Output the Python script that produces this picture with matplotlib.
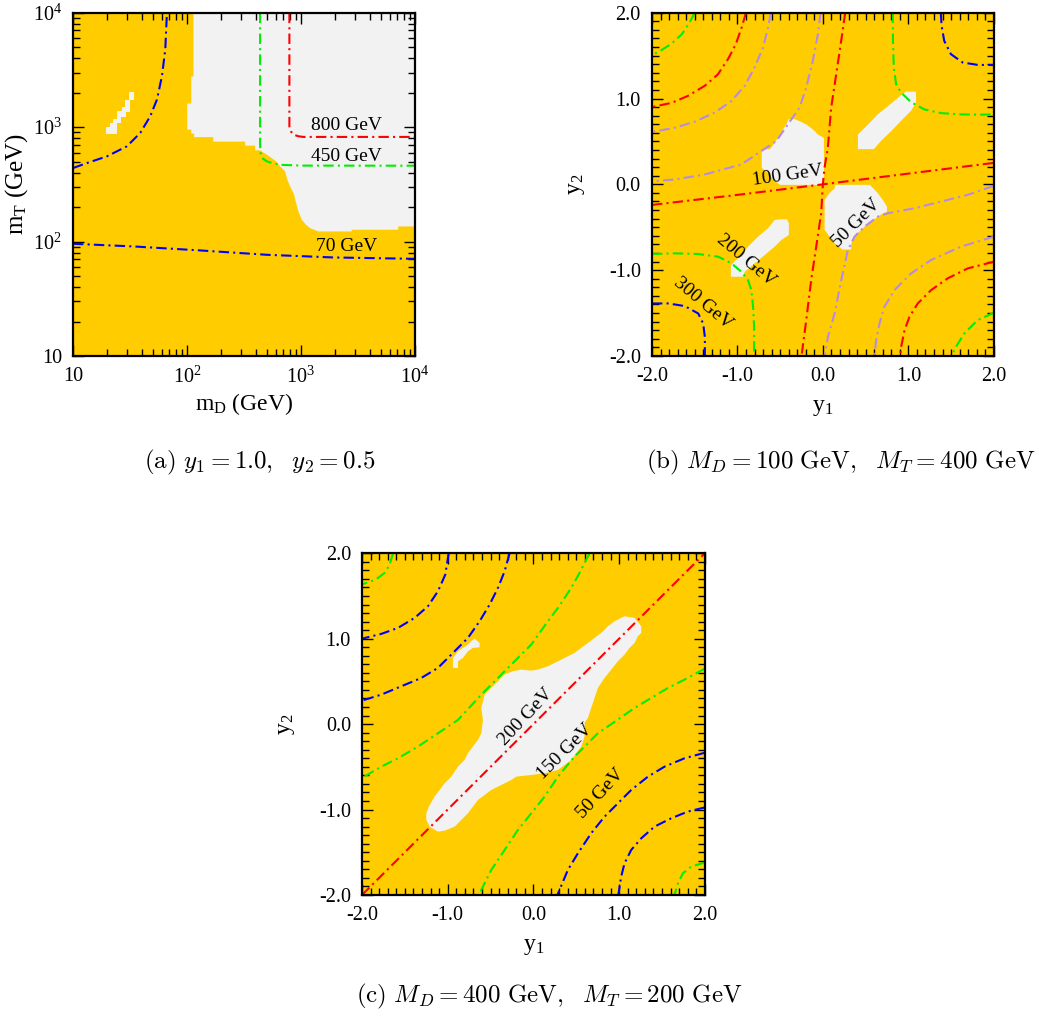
import matplotlib
matplotlib.use('Agg')
import matplotlib.pyplot as plt
from matplotlib.ticker import MultipleLocator, LogLocator, NullFormatter

plt.rcParams['font.family'] = 'Liberation Serif'
plt.rcParams['mathtext.fontset'] = 'custom'
plt.rcParams['mathtext.rm'] = 'Liberation Serif'
plt.rcParams['mathtext.it'] = 'Liberation Serif:italic'
plt.rcParams['mathtext.bf'] = 'Liberation Serif:bold'
plt.rcParams['lines.scale_dashes'] = False

YELLOW = '#FFCC00'
GREY = '#F2F2F2'
BLUE = '#0000FF'
GREEN = '#00EE00'
RED = '#FF0000'
PURPLE = '#B48CE6'
DASH = (0, (7.5, 3, 1.5, 3))

# ---- panel (a): m_D vs m_T (GeV), y1=1.0, y2=0.5 ----
a_white_main = [(114, 1e4), (114, 2770), (109, 2770), (109, 1607), (100.5, 1607), (100.5, 952),
                (109, 952), (109, 878), (115.7, 878), (115.7, 818), (170, 818), (170, 747),
                (324, 747), (324, 689), (396, 689), (396, 627), (438, 627), (485, 587),
                (536, 549), (605, 502), (656, 454), (726, 411), (760, 347), (803, 304),
                (871, 257), (907, 217), (950, 183), (1017, 155), (1109, 140), (1203, 131),
                (1422, 122.5), (2790, 122.5), (2790, 126.8), (7143, 126.8), (7143, 135.5),
                (1e4, 135.5), (1e4, 1e4)]
a_white_small = [(19.6, 878), (19.6, 1005), (20.95, 1005), (20.95, 1089), (22.4, 1089),
                 (22.4, 1181), (24.3, 1181), (24.3, 1376), (26.9, 1376), (26.9, 1504),
                 (28.7, 1504), (28.7, 1718), (31.2, 1718), (31.2, 2047), (34.0, 2047),
                 (34.0, 1718), (31.5, 1718), (31.5, 1368), (29.3, 1368), (29.3, 1237),
                 (26.5, 1237), (26.5, 1096), (24.3, 1096), (24.3, 878)]

a_blue_up_x = [10, 13.3, 19.9, 29.7, 38.9, 47.6, 54.5, 60.3, 64.5, 66.7]
a_blue_up_y = [439, 486, 556, 680, 890, 1245, 1741, 2790, 4773, 1e4]
a_blue_lo_x = [10, 34, 130.6, 501, 1926, 1e4]
a_blue_lo_y = [95.6, 90.6, 83.6, 76.6, 72.6, 70.6]
a_green_x = [438, 438, 442, 454, 502, 573, 702, 1050, 1e4]
a_green_y = [1e4, 700, 600, 538, 502, 480, 467, 461, 460]
a_red_x = [792, 792, 800, 815, 859, 950, 1050, 1e4]
a_red_y = [1e4, 1017, 960, 920, 861, 832, 821, 821]
a_labels = [('800 GeV', 2522, 1031, 0), ('450 GeV', 2522, 549, 0), ('70 GeV', 2522, 90.6, 0)]

# ---- panel (b): y1 vs y2, M_D=100, M_T=400 ----
b_white = [
    [(-0.716, 0.403), (-0.716, 0.19), (-0.66, 0.15), (-0.62, 0.11), (-0.58, 0.05), (-0.50, -0.006),
     (0.012, -0.006), (0.012, 0.54), (-0.054, 0.578), (-0.113, 0.637), (-0.19, 0.695),
     (-0.27, 0.735), (-0.33, 0.76), (-0.40, 0.76), (-0.424, 0.707), (-0.50, 0.58),
     (-0.58, 0.462), (-0.62, 0.411)],
    [(0.41, 0.41), (0.596, 0.41), (0.68, 0.505), (0.80, 0.62), (0.915, 0.74), (1.03, 0.855),
     (1.09, 0.95), (1.09, 1.08), (0.97, 1.08), (0.88, 1.01), (0.76, 0.91), (0.64, 0.815),
     (0.53, 0.70), (0.41, 0.58)],
    [(0.14, -0.006), (0.55, -0.006), (0.64, -0.10), (0.70, -0.18), (0.75, -0.26), (0.75, -0.32),
     (0.70, -0.34), (0.64, -0.38), (0.49, -0.49), (0.37, -0.61), (0.33, -0.70), (0.33, -0.76),
     (0.23, -0.76), (0.14, -0.69), (0.08, -0.61), (0.02, -0.53), (0.02, -0.18), (0.08, -0.10),
     (0.14, -0.045)],
    [(-1.077, -1.077), (-0.933, -1.077), (-0.915, -1.019), (-0.798, -0.921), (-0.681, -0.824),
     (-0.564, -0.726), (-0.486, -0.649), (-0.398, -0.59), (-0.398, -0.454), (-0.42, -0.407),
     (-0.486, -0.407), (-0.564, -0.415), (-0.642, -0.512), (-0.759, -0.61), (-0.876, -0.726),
     (-0.973, -0.843), (-1.077, -0.941)],
]
b_green_tl_x = [-1.50, -1.56, -1.65, -1.77, -1.89, -2.0]
b_green_tl_y = [2.0, 1.885, 1.75, 1.64, 1.563, 1.505]
b_red_tl_x = [-0.90, -0.95, -1.02, -1.11, -1.23, -1.38, -1.58, -1.77, -2.0]
b_red_tl_y = [2.0, 1.83, 1.63, 1.46, 1.28, 1.15, 1.03, 0.95, 0.90]
b_purple_tl_x = [-0.61, -0.64, -0.70, -0.80, -0.915, -1.07, -1.265, -1.50, -1.73, -2.0]
b_purple_tl_y = [2.0, 1.83, 1.595, 1.36, 1.147, 0.972, 0.836, 0.73, 0.66, 0.61]
b_purple_in1_x = [-0.027, -0.058, -0.117, -0.195, -0.273, -0.409, -0.545, -0.72, -0.954, -1.38, -1.73, -2.0]
b_purple_in1_y = [2.0, 1.75, 1.44, 1.127, 0.894, 0.699, 0.504, 0.388, 0.232, 0.115, 0.057, 0.035]
b_red_steep_x = [0.261, 0.214, 0.156, 0.097, 0.058, 0.019, 0.0, -0.02, -0.078, -0.137, -0.195, -0.25]
b_red_steep_y = [2.0, 1.672, 1.283, 0.894, 0.427, 0.193, 0.0, -0.337, -0.726, -1.116, -1.583, -2.0]
b_red_flat_x = [-2.0, -1.0, 0.0, 1.0, 2.0]
b_red_flat_y = [-0.24, -0.123, 0.0, 0.125, 0.25]
b_green_tr_x = [0.818, 0.82, 0.83, 0.857, 0.915, 1.032, 1.187, 1.382, 1.616, 1.849, 2.0]
b_green_tr_y = [2.0, 1.67, 1.36, 1.166, 1.069, 0.958, 0.873, 0.830, 0.815, 0.812, 0.815]
b_blue_tr_x = [1.38, 1.389, 1.42, 1.498, 1.635, 1.81, 2.0]
b_blue_tr_y = [2.0, 1.848, 1.672, 1.517, 1.420, 1.392, 1.39]
b_blue_bl_x = [-2.0, -1.81, -1.615, -1.459, -1.401, -1.381, -1.381]
b_blue_bl_y = [-1.388, -1.388, -1.419, -1.505, -1.622, -1.778, -2.0]
b_green_bl_x = [-2.0, -1.732, -1.459, -1.225, -1.070, -0.953, -0.876, -0.837, -0.817, -0.805, -0.805]
b_green_bl_y = [-0.812, -0.804, -0.812, -0.843, -0.921, -1.019, -1.116, -1.233, -1.427, -1.661, -2.0]
b_purple_in2_x = [2.0, 1.694, 1.382, 1.071, 0.760, 0.643, 0.487, 0.370, 0.292, 0.215, 0.137, 0.059, 0.020]
b_purple_in2_y = [-0.018, -0.123, -0.201, -0.279, -0.337, -0.376, -0.493, -0.610, -0.766, -1.116, -1.505, -1.778, -2.0]
b_purple_br_x = [2.0, 1.616, 1.266, 1.032, 0.837, 0.720, 0.662, 0.623, 0.604]
b_purple_br_y = [-0.61, -0.726, -0.882, -1.038, -1.233, -1.427, -1.622, -1.817, -2.0]
b_red_br_x = [2.0, 1.694, 1.460, 1.266, 1.110, 1.013, 0.955, 0.916, 0.904]
b_red_br_y = [-0.902, -0.980, -1.096, -1.233, -1.388, -1.544, -1.700, -1.894, -2.0]
b_green_br_x = [2.0, 1.810, 1.654, 1.557, 1.506]
b_green_br_y = [-1.497, -1.583, -1.739, -1.894, -2.0]
b_labels = [('100 GeV', -0.41, 0.096, 8), ('50 GeV', 0.389, -0.453, 45),
            ('200 GeV', -0.896, -0.882, -40), ('300 GeV', -1.401, -1.388, -40)]

# ---- panel (c): y1 vs y2, M_D=400, M_T=200 ----
c_white = [
    [(1.063, 1.262), (1.180, 1.243), (1.258, 1.145), (1.258, 1.067), (1.219, 1.028), (1.180, 0.950),
     (1.121, 0.892), (1.063, 0.814), (0.985, 0.736), (0.908, 0.638), (0.830, 0.541), (0.752, 0.423),
     (0.713, 0.306), (0.674, 0.189), (0.636, 0.072), (0.597, 0.014), (0.597, -0.146), (0.558, -0.263),
     (0.441, -0.419), (0.286, -0.536), (0.130, -0.575), (-0.025, -0.595), (-0.200, -0.615),
     (-0.258, -0.654), (-0.336, -0.693), (-0.414, -0.732), (-0.492, -0.771), (-0.569, -0.829),
     (-0.647, -0.888), (-0.706, -0.966), (-0.764, -1.044), (-0.842, -1.122), (-0.919, -1.200),
     (-1.036, -1.247), (-1.114, -1.259), (-1.211, -1.200), (-1.250, -1.122), (-1.250, -1.044),
     (-1.211, -0.946), (-1.153, -0.849), (-1.094, -0.771), (-1.036, -0.693), (-0.958, -0.615),
     (-0.880, -0.497), (-0.803, -0.419), (-0.764, -0.341), (-0.706, -0.263), (-0.647, -0.185),
     (-0.608, -0.107), (-0.589, 0.049), (-0.608, 0.189), (-0.569, 0.345), (-0.492, 0.423),
     (-0.414, 0.501), (-0.336, 0.580), (-0.239, 0.619), (-0.142, 0.638), (-0.025, 0.626),
     (0.052, 0.638), (0.169, 0.677), (0.247, 0.716), (0.325, 0.755), (0.402, 0.794), (0.480, 0.833),
     (0.558, 0.892), (0.636, 0.950), (0.713, 1.009), (0.791, 1.067), (0.869, 1.145), (0.947, 1.204),
     (1.024, 1.243)],
    [(-0.939, 0.658), (-0.880, 0.658), (-0.880, 0.736), (-0.822, 0.775), (-0.764, 0.853), (-0.706, 0.892),
     (-0.628, 0.899), (-0.628, 0.950), (-0.686, 1.001), (-0.725, 0.970), (-0.764, 0.931), (-0.822, 0.892),
     (-0.880, 0.853), (-0.939, 0.775)],
]
c_red_x = [-2.0, 2.0]
c_red_y = [-2.0, 2.0]
c_green_tl_x = [-1.638, -1.677, -1.736, -1.813, -1.891, -2.0]
c_green_tl_y = [2.0, 1.867, 1.770, 1.711, 1.672, 1.636]
c_blue1_x = [-0.989, -1.028, -1.114, -1.230, -1.386, -1.580, -1.775, -2.0]
c_blue1_y = [2.0, 1.750, 1.555, 1.380, 1.243, 1.126, 1.056, 1.0]
c_blue2_x = [-0.278, -0.336, -0.414, -0.511, -0.628, -0.764, -0.919, -1.114, -1.308, -1.541, -1.775, -2.0]
c_blue2_y = [2.0, 1.789, 1.594, 1.399, 1.204, 1.009, 0.853, 0.658, 0.540, 0.443, 0.345, 0.275]
c_green2_x = [0.655, 0.538, 0.441, 0.286, 0.169, -0.025, -0.142, -0.336, -0.453, -0.608, -0.880,
              -1.114, -1.347, -1.580, -1.775, -2.0]
c_green2_y = [2.0, 1.770, 1.594, 1.360, 1.204, 0.931, 0.814, 0.619, 0.501, 0.345, 0.049,
              -0.107, -0.263, -0.400, -0.498, -0.63]
c_green3_x = [2.0, 1.763, 1.569, 1.374, 1.180, 0.985, 0.752, 0.636, 0.480, 0.286, 0.130, -0.025,
              -0.181, -0.336, -0.492, -0.608, -0.63]
c_green3_y = [0.65, 0.521, 0.423, 0.306, 0.189, 0.053, -0.107, -0.224, -0.380, -0.615, -0.849, -1.044,
              -1.239, -1.473, -1.707, -1.941, -2.0]
c_blue3_x = [2.0, 1.763, 1.530, 1.336, 1.141, 0.986, 0.830, 0.674, 0.519, 0.402, 0.28]
c_blue3_y = [-0.335, -0.400, -0.498, -0.615, -0.771, -0.927, -1.083, -1.278, -1.512, -1.707, -2.0]
c_blue4_x = [2.0, 1.802, 1.608, 1.413, 1.258, 1.141, 1.063, 1.024, 0.99]
c_blue4_y = [-0.975, -1.024, -1.102, -1.200, -1.337, -1.473, -1.629, -1.785, -2.0]
c_green4_x = [2.0, 1.841, 1.744, 1.686, 1.645]
c_green4_y = [-1.62, -1.668, -1.746, -1.863, -2.0]
c_labels = [('200 GeV', -0.091, 0.087, 47), ('150 GeV', 0.367, -0.323, 45), ('50 GeV', 0.783, -0.81, 47)]

y_ticks = [-2.0, -1.0, 0.0, 1.0, 2.0]
y_ticklabels = ['-2.0', '-1.0', '0.0', '1.0', '2.0']
log_ticks = [10, 100, 1000, 10000]
log_ticklabels = ['10', r'$10^{2}$', r'$10^{3}$', r'$10^{4}$']

captions = [r'$\mathrm{(a)}\ y_1 = 1.0,\ \ y_2 = 0.5$',
            r'$\mathrm{(b)}\ M_D = 100\ \mathrm{GeV},\ \ M_T = 400\ \mathrm{GeV}$',
            r'$\mathrm{(c)}\ M_D = 400\ \mathrm{GeV},\ \ M_T = 200\ \mathrm{GeV}$']


def style_box(ax):
    ax.set_facecolor(YELLOW)
    for s in ax.spines.values():
        s.set_linewidth(1.6)
    ax.tick_params(which='both', direction='in', top=True, right=True, width=1.0,
                   labelsize=14.5, pad=8)
    ax.tick_params(which='major', length=8)
    ax.tick_params(which='minor', length=5)


def draw(ax, polys, lines, labels):
    for p in polys:
        ax.fill([v[0] for v in p], [v[1] for v in p], color=GREY, lw=0, zorder=1)
    for x, y, c in lines:
        ax.plot(x, y, color=c, lw=1.5, ls=DASH, zorder=2)
    for t, x, y, r in labels:
        ax.text(x, y, t, fontsize=14, rotation=r, ha='center', va='center',
                rotation_mode='anchor', zorder=3)


def y_axes(ax):
    ax.set_xlim(-2, 2)
    ax.set_ylim(-2, 2)
    ax.set_xticks(y_ticks, labels=y_ticklabels)
    ax.set_yticks(y_ticks, labels=y_ticklabels)
    ax.xaxis.set_minor_locator(MultipleLocator(0.1))
    ax.yaxis.set_minor_locator(MultipleLocator(0.1))
    ax.set_xlabel(r'y$_\mathrm{1}$', fontsize=17, labelpad=8)
    ax.set_ylabel(r'y$_\mathrm{2}$', fontsize=17, labelpad=16)


fig = plt.figure(figsize=(10.39, 10.17), dpi=100)

# (a)
ax = fig.add_axes([0.0703, 0.650, 0.329, 0.3375])
style_box(ax)
ax.set_xscale('log')
ax.set_yscale('log')
draw(ax, [a_white_main, a_white_small],
     [(a_blue_up_x, a_blue_up_y, BLUE), (a_blue_lo_x, a_blue_lo_y, BLUE),
      (a_green_x, a_green_y, GREEN), (a_red_x, a_red_y, RED)], a_labels)
ax.set_xlim(10, 1e4)
ax.set_ylim(10, 1e4)
ax.set_xticks(log_ticks, labels=log_ticklabels)
ax.set_yticks(log_ticks, labels=log_ticklabels)
for axis in (ax.xaxis, ax.yaxis):
    axis.set_minor_locator(LogLocator(base=10, subs=range(2, 10)))
    axis.set_minor_formatter(NullFormatter())
ax.set_xlabel(r'm$_\mathrm{D}$ (GeV)', fontsize=17, labelpad=2)
ax.set_ylabel(r'm$_\mathrm{T}$ (GeV)', fontsize=18, labelpad=2)

# (b)
ax = fig.add_axes([0.6275, 0.650, 0.329, 0.3375])
style_box(ax)
draw(ax, b_white,
     [(b_green_tl_x, b_green_tl_y, GREEN), (b_red_tl_x, b_red_tl_y, RED),
      (b_purple_tl_x, b_purple_tl_y, PURPLE), (b_purple_in1_x, b_purple_in1_y, PURPLE),
      (b_red_steep_x, b_red_steep_y, RED), (b_red_flat_x, b_red_flat_y, RED),
      (b_green_tr_x, b_green_tr_y, GREEN), (b_blue_tr_x, b_blue_tr_y, BLUE),
      (b_blue_bl_x, b_blue_bl_y, BLUE), (b_green_bl_x, b_green_bl_y, GREEN),
      (b_purple_in2_x, b_purple_in2_y, PURPLE), (b_purple_br_x, b_purple_br_y, PURPLE),
      (b_red_br_x, b_red_br_y, RED), (b_green_br_x, b_green_br_y, GREEN)], b_labels)
y_axes(ax)

# (c)
ax = fig.add_axes([0.3484, 0.120, 0.330, 0.336])
style_box(ax)
draw(ax, c_white,
     [(c_red_x, c_red_y, RED), (c_green_tl_x, c_green_tl_y, GREEN),
      (c_blue1_x, c_blue1_y, BLUE), (c_blue2_x, c_blue2_y, BLUE),
      (c_green2_x, c_green2_y, GREEN), (c_green3_x, c_green3_y, GREEN),
      (c_blue3_x, c_blue3_y, BLUE), (c_blue4_x, c_blue4_y, BLUE),
      (c_green4_x, c_green4_y, GREEN)], c_labels)
y_axes(ax)

fig.text(0.250, 0.545, captions[0], fontsize=18, math_fontfamily='cm', ha='center', va='center')
fig.text(0.809, 0.545, captions[1], fontsize=18, math_fontfamily='cm', ha='center', va='center')
fig.text(0.529, 0.020, captions[2], fontsize=18, math_fontfamily='cm', ha='center', va='center')

fig.savefig('out.png', dpi=100)
